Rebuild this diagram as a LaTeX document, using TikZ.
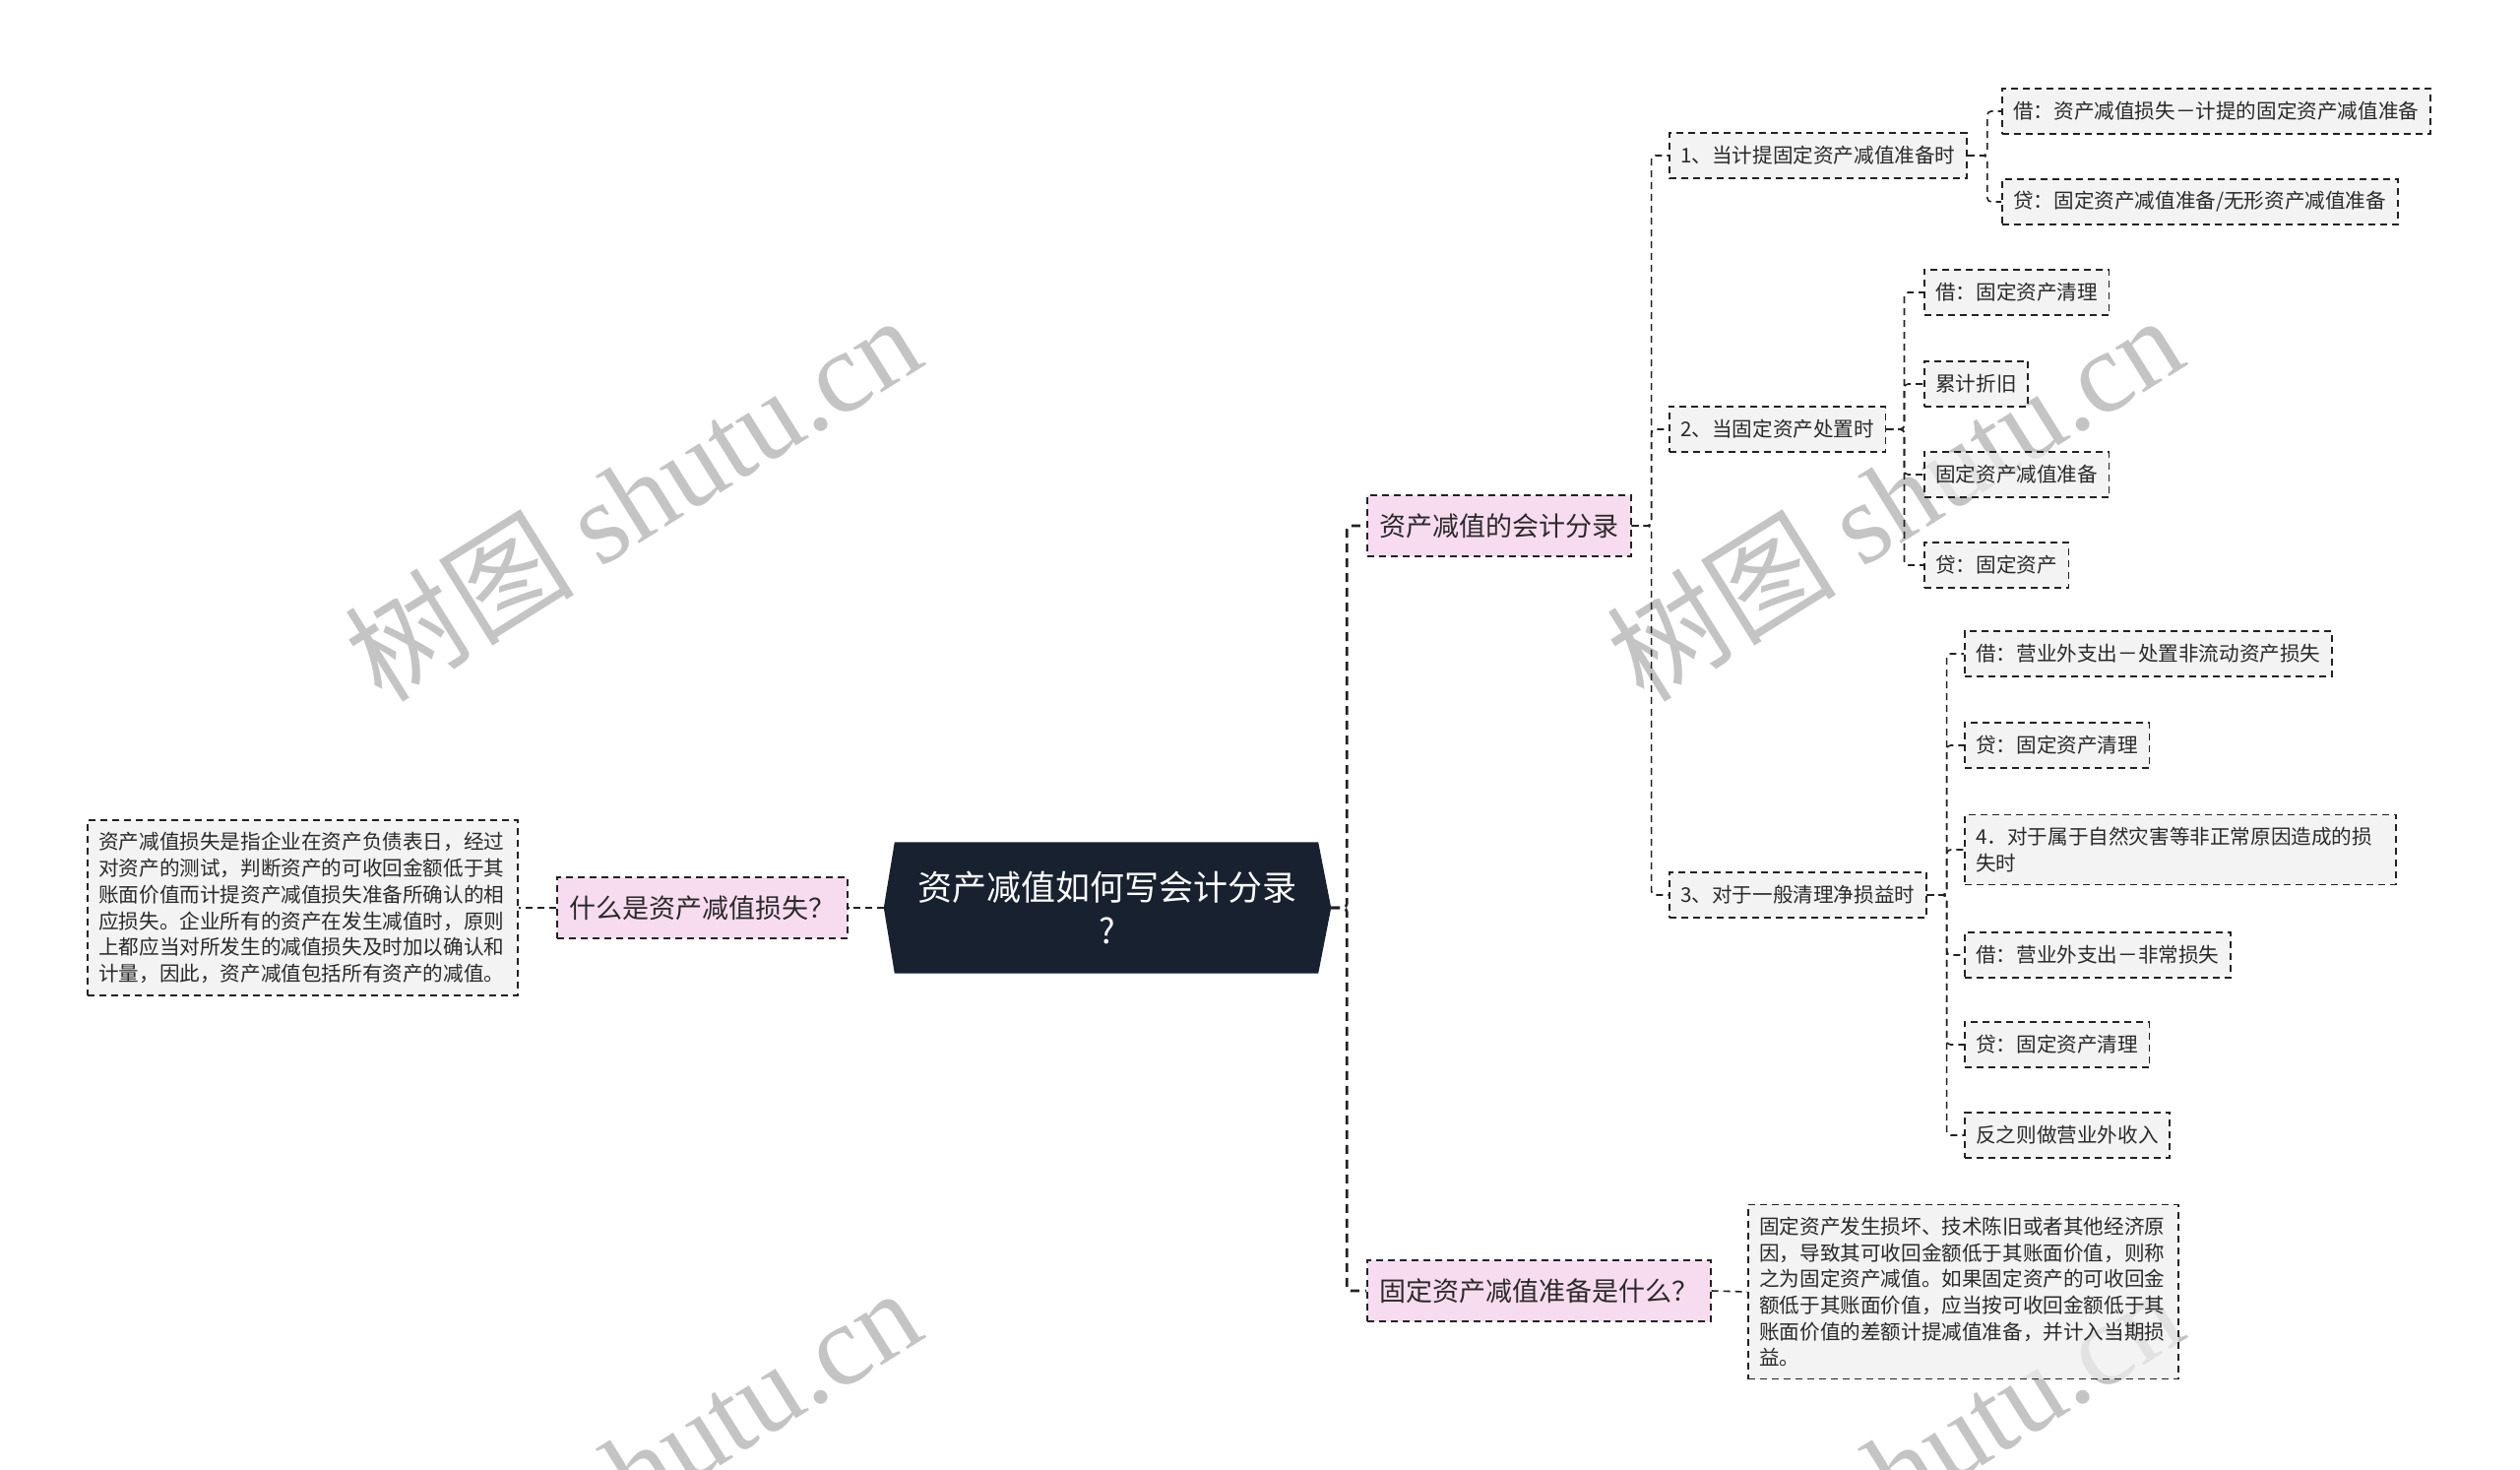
\documentclass[tikz,border=0pt]{standalone}
\usepackage{fontspec}
\setmainfont{Noto Sans CJK SC}
\newfontfamily\wmlatin{Liberation Serif}
\usetikzlibrary{backgrounds,calc}
\definecolor{navy}{HTML}{17212F}
\definecolor{pinkfill}{HTML}{F4CEEA}
\definecolor{grayfill}{HTML}{EFEFEF}
\definecolor{txt}{HTML}{2A2A2A}
\definecolor{linec}{HTML}{222222}
\definecolor{wm}{HTML}{C4C4C4}
\begin{document}
\begin{tikzpicture}[x=1pt,y=-1pt,
  box/.style={draw=linec, line width=1.6pt, dash pattern=on 7pt off 5pt, fill=grayfill, fill opacity=0.7,
    text opacity=1, text=txt,
    anchor=west, inner xsep=11.5pt, inner ysep=0pt, minimum height=46pt,
    font=\fontsize{20.6}{26.7}\selectfont},
  multibox/.style={box, inner ysep=12.5pt, align=left, minimum height=0pt},
  topic/.style={box, fill=pinkfill, inner xsep=12.5pt, minimum height=62pt,
    font=\fontsize{27}{34}\selectfont},
  conn/.style={draw=linec, line width=1.6pt, dash pattern=on 7pt off 5pt, rounded corners=4pt},
  mainconn/.style={conn, line width=2.6pt, dash pattern=on 9pt off 6pt},
  wmark/.style={text=wm, rotate=32, inner sep=0pt,
    font=\fontsize{117}{117}\selectfont}
]
\useasboundingbox (0,0) rectangle (2560,1493);
\begin{scope}[on background layer]
  \fill[white] (0,0) rectangle (2560,1493);
  \clip (0,0) rectangle (2560,1493);
  \node[wmark] (wm1) at (642,505) {树图 {\wmlatin shutu.cn}};
  \node[wmark] (wm2) at (1924,505) {树图 {\wmlatin shutu.cn}};
  \node[wmark] (wm3) at (642,1493) {树图 {\wmlatin shutu.cn}};
  \node[wmark] (wm4) at (1924,1493) {树图 {\wmlatin shutu.cn}};
\end{scope}

% root
\node[font=\fontsize{35}{44}\selectfont, text=white, align=center,
      minimum width=454pt, minimum height=133pt, inner sep=0pt] (root) at (1125,922)
      {资产减值如何写会计分录\\?};
\begin{scope}[on background layer]
  \fill[navy] (root.west) -- ([xshift=11pt]root.north west) -- ([xshift=-13pt]root.north east)
    -- (root.east) -- ([xshift=-13pt]root.south east) -- ([xshift=11pt]root.south west) -- cycle;
\end{scope}

% left side
\node[topic] (what) at (565,922) {什么是资产减值损失？};
\node[multibox, text width=414pt] (whatdesc) at (88,922)
  {资产减值损失是指企业在资产负债表日，经过\\对资产的测试，判断资产的可收回金额低于其\\账面价值而计提资产减值损失准备所确认的相\\应损失。企业所有的资产在发生减值时，原则\\上都应当对所发生的减值损失及时加以确认和\\计量，因此，资产减值包括所有资产的减值。};

% right side topics
\node[topic] (acct) at (1388,534) {资产减值的会计分录};
\node[topic] (fixed) at (1388,1311) {固定资产减值准备是什么？};
\node[multibox, text width=414pt] (fixeddesc) at (1775,1312)
  {固定资产发生损坏、技术陈旧或者其他经济原\\因，导致其可收回金额低于其账面价值，则称\\之为固定资产减值。如果固定资产的可收回金\\额低于其账面价值，应当按可收回金额低于其\\账面价值的差额计提减值准备，并计入当期损\\益。};

% level 2
\node[box] (s1) at (1695,158) {1、当计提固定资产减值准备时};
\node[box] (s2) at (1695,436) {2、当固定资产处置时};
\node[box] (s3) at (1695,909) {3、对于一般清理净损益时};

% level 3, group 1
\node[box] (s1a) at (2033,113) {借：资产减值损失－计提的固定资产减值准备};
\node[box] (s1b) at (2033,205) {贷：固定资产减值准备/无形资产减值准备};

% group 2
\node[box] (s2a) at (1954,297) {借：固定资产清理};
\node[box] (s2b) at (1954,390) {累计折旧};
\node[box] (s2c) at (1954,482) {固定资产减值准备};
\node[box] (s2d) at (1954,574) {贷：固定资产};

% group 3
\node[box] (s3a) at (1995,664) {借：营业外支出－处置非流动资产损失};
\node[box] (s3b) at (1995,757) {贷：固定资产清理};
\node[multibox, text width=415pt] (s3c) at (1995,863) {4．对于属于自然灾害等非正常原因造成的损\\失时};
\node[box] (s3d) at (1995,970) {借：营业外支出－非常损失};
\node[box] (s3e) at (1995,1061) {贷：固定资产清理};
\node[box] (s3f) at (1995,1153) {反之则做营业外收入};

% connectors
\draw[conn, line width=2pt] (root.west) -- (what.east);
\draw[conn] (what.west) -- (whatdesc.east);
\draw[mainconn] (root.east) -- ++(16,0) |- (acct.west);
\draw[mainconn] (root.east) -- ++(16,0) |- (fixed.west);
\draw[conn] (fixed.east) -- (fixeddesc.west);

\foreach \c in {s1,s2,s3} \draw[conn] (acct.east) -- ++(20,0) |- (\c.west);
\foreach \c in {s1a,s1b} \draw[conn] (s1.east) -- ++(20,0) |- (\c.west);
\foreach \c in {s2a,s2b,s2c,s2d} \draw[conn] (s2.east) -- ++(18,0) |- (\c.west);
\foreach \c in {s3a,s3b,s3c,s3d,s3e,s3f} \draw[conn] (s3.east) -- ++(20,0) |- (\c.west);
\end{tikzpicture}
\end{document}
